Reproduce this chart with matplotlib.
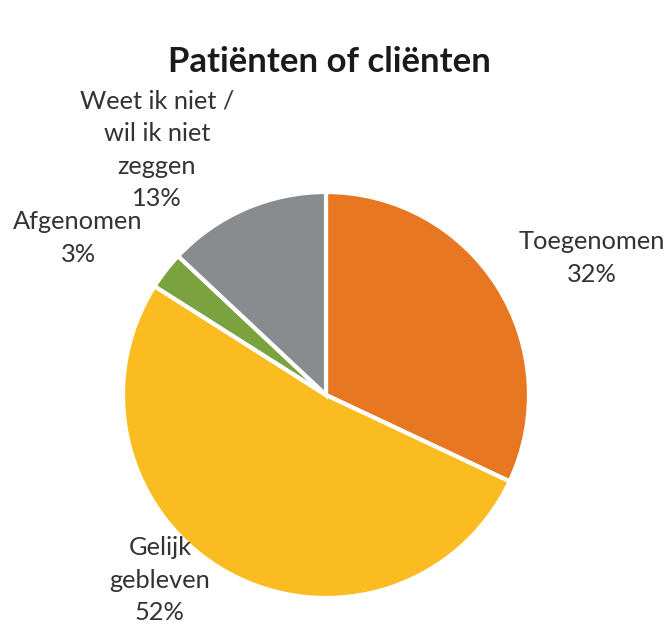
import matplotlib.pyplot as plt

# pie slices, clockwise from 12 o'clock
labels = ["Toegenomen", "Gelijk\ngebleven", "Afgenomen", "Weet ik niet /\nwil ik niet\nzeggen"]
values = [32, 52, 3, 13]
colors = ["#E87722", "#FBBC22", "#7AA33F", "#898C8E"]
title = "Patiënten of cliënten"

W, H = 669, 629
fig = plt.figure(figsize=(W / 100, H / 100), dpi=100)
ax = fig.add_axes([0, 0, 1, 1])

cx, cy, r = 326, H - 395, 203
wedges, _ = ax.pie(values, colors=colors, startangle=90, counterclock=False,
                   center=(cx, cy), radius=r, frame=True,
                   wedgeprops=dict(edgecolor="white", linewidth=3))
ax.set_xlim(0, W)
ax.set_ylim(0, H)
ax.set_aspect("equal")
ax.axis("off")

txt = dict(fontsize=18.3, color="#333333", family="Lato", ha="center", va="center",
           linespacing=1.5)
# label anchor positions (pixel coords from top)
label_pos = [(592, 258), (160, 580), (78, 238), (157, 150)]
for lab, v, (x, y) in zip(labels, values, label_pos):
    ax.text(x, H - y, f"{lab}\n{v}%", **txt)

ax.text(329, H - 62, title, fontsize=25, fontweight="bold", color="#1a1a1a",
        family="Lato", ha="center", va="center")

fig.savefig("out.png", dpi=100)
